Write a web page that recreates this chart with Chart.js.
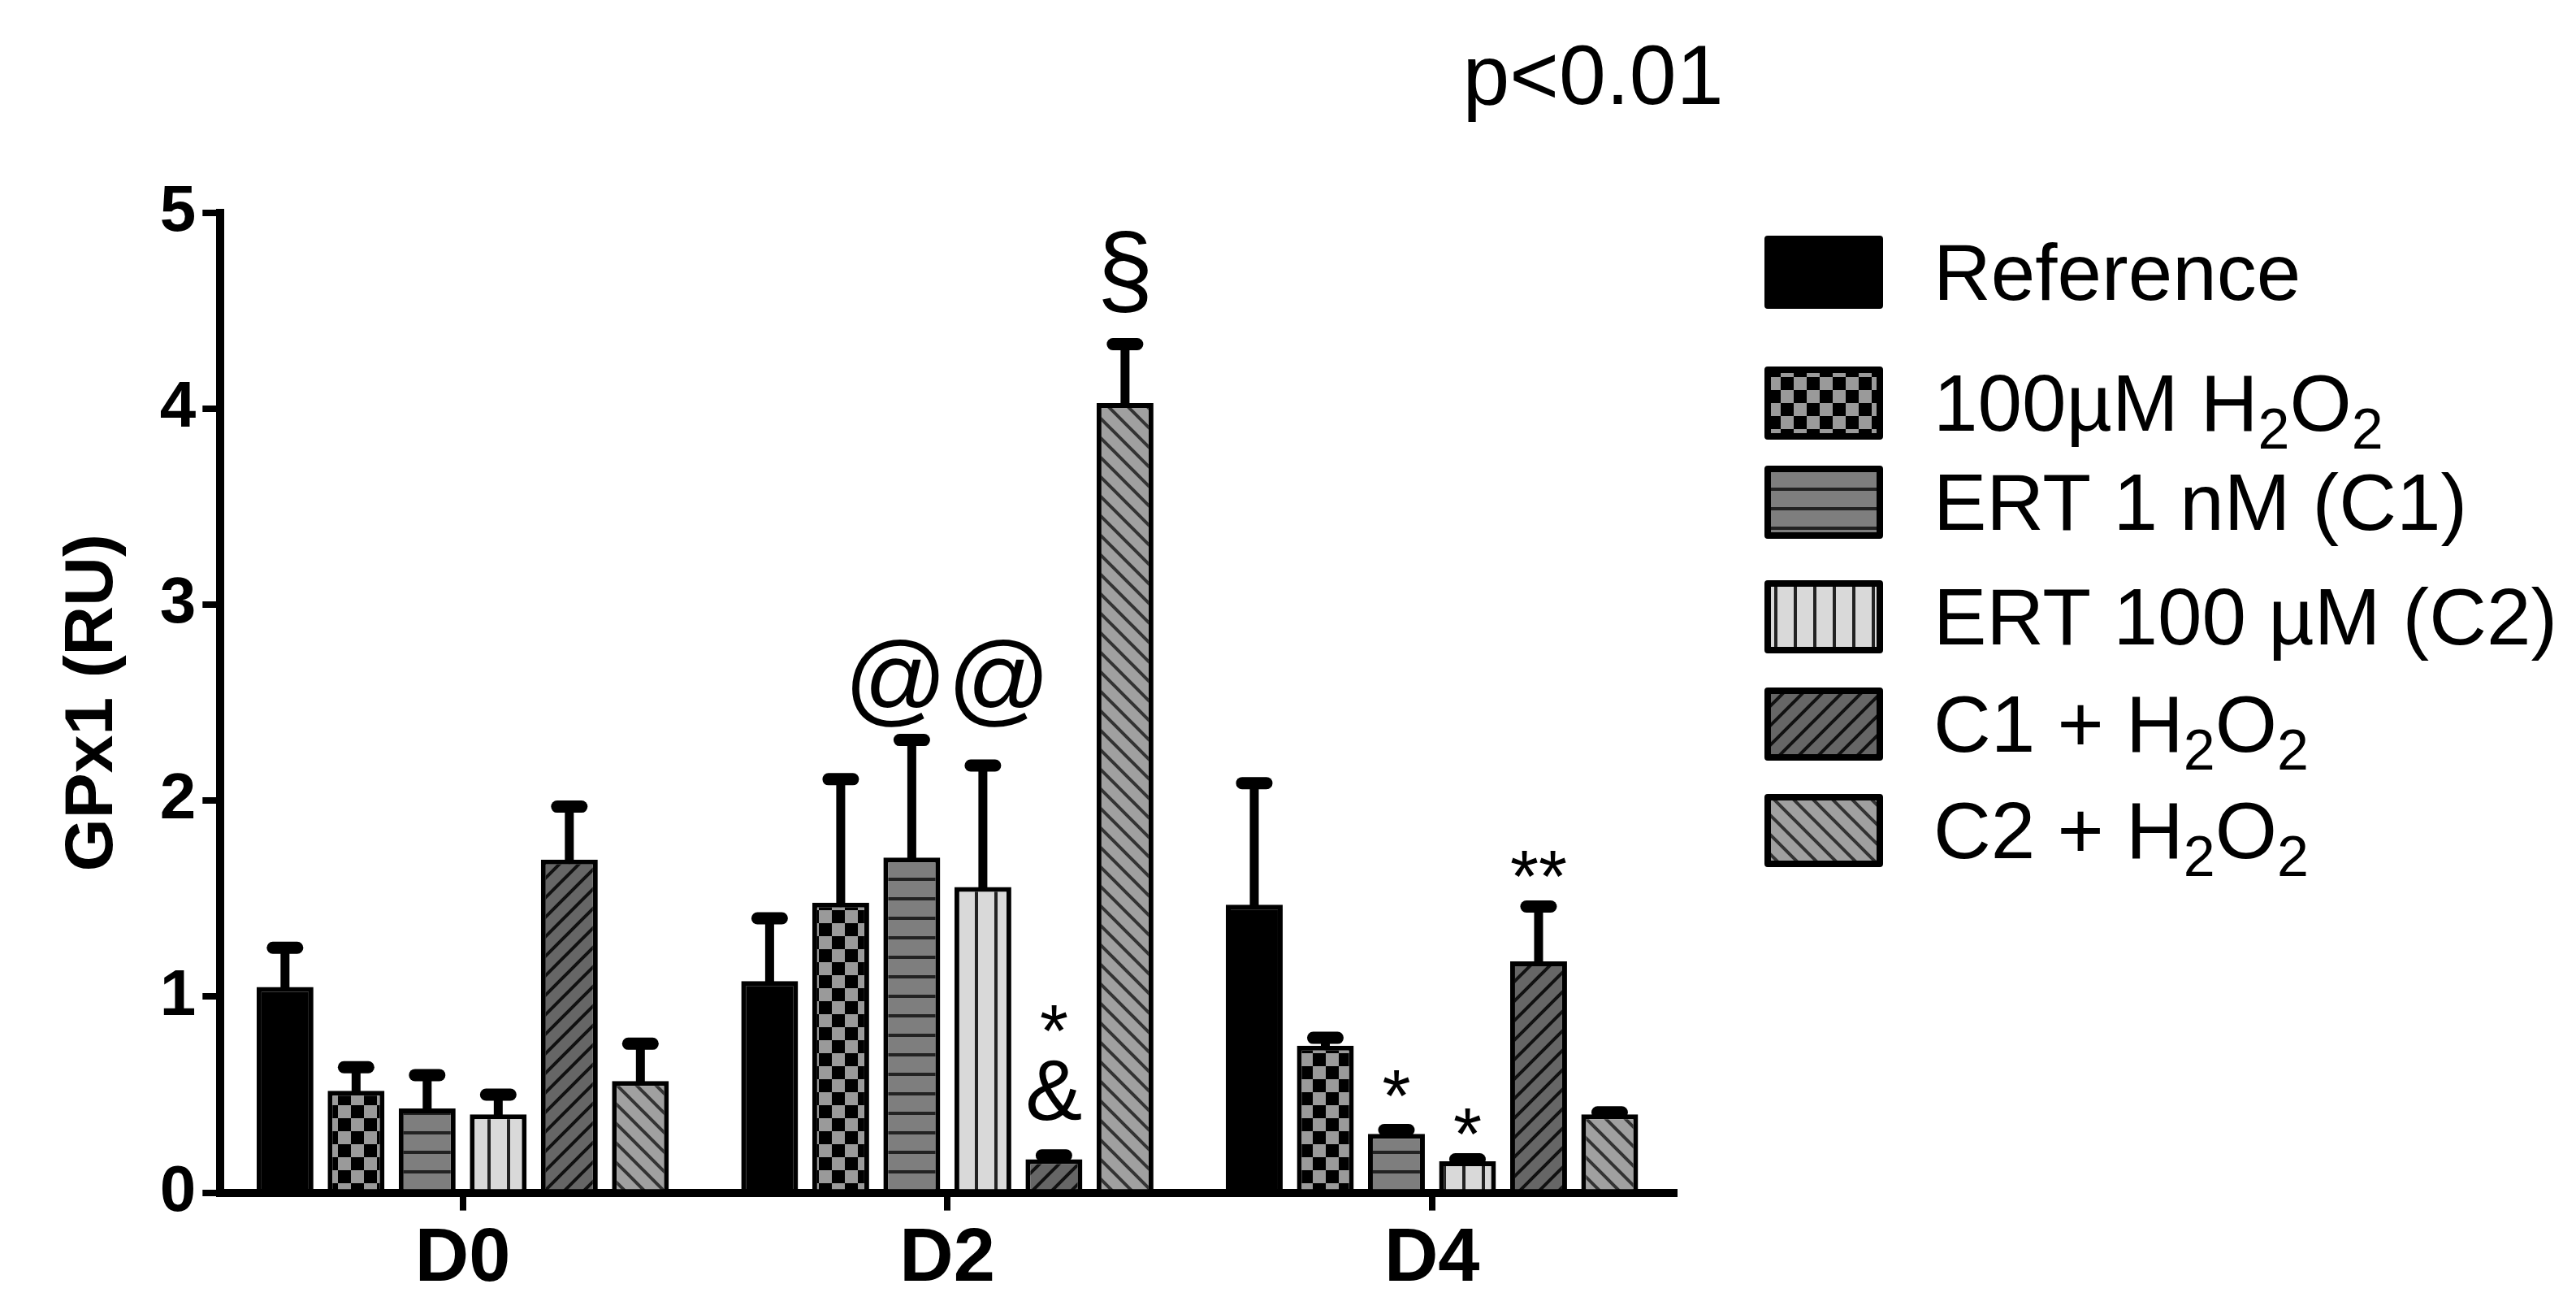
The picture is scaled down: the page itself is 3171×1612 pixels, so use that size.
<!DOCTYPE html>
<html><head><meta charset="utf-8">
<script src="https://cdn.jsdelivr.net/npm/chart.js@4"></script>
<style>html,body{margin:0;padding:0;background:#fff}</style>
</head><body>
<canvas id="c" width="3171" height="1612"></canvas>
<script>
const categories = ["D0","D2","D4"];
const seriesNames = ["Reference","100µM H2O2","ERT 1 nM (C1)","ERT 100 µM (C2)","C1 + H2O2","C2 + H2O2"];
const refMean = [1.05,1.08,1.47];   const refErr = [1.25,1.40,2.09];
const h2o2Mean = [0.52,1.48,0.75];  const h2o2Err = [0.64,2.11,0.79];
const c1Mean = [0.43,1.71,0.30];    const c1Err = [0.60,2.31,0.32];
const c2Mean = [0.40,1.56,0.16];    const c2Err = [0.50,2.18,0.17];
const c1hMean = [1.70,0.17,1.18];   const c1hErr = [1.97,0.19,1.46];
const c2hMean = [0.57,4.03,0.40];   const c2hErr = [0.76,4.33,0.41];
const yTicks = [0,1,2,3,4,5];
// annotations: [dataset, category, text, baseline offset above error top, font size]
const notes = [[2.5,1,"@@",34,125],[5,1,"§",50,125],[4,1,"&",44,105],[4,1,"*",122,90],
               [2,2,"*",10,90],[3,2,"*",0,90],[4,2,"**",6,90]];

function mk(w,h,draw){const c=document.createElement('canvas');c.width=w;c.height=h;const x=c.getContext('2d');draw(x,w,h);return x.createPattern(c,'repeat');}
const ctx0=document.getElementById('c').getContext('2d');
const pats=[
 '#000',
 mk(32,32,(x)=>{x.fillStyle='#9a9a9a';x.fillRect(0,0,32,32);x.fillStyle='#000';x.fillRect(0,0,16,16);x.fillRect(16,16,16,16);}),
 mk(20,24,(x)=>{x.fillStyle='#7e7e7e';x.fillRect(0,0,20,24);x.fillStyle='#222';x.fillRect(0,0,20,4);}),
 mk(24,20,(x)=>{x.fillStyle='#d9d9d9';x.fillRect(0,0,24,20);x.fillStyle='#222';x.fillRect(0,0,4,20);}),
 mk(24,24,(x)=>{x.fillStyle='#666';x.fillRect(0,0,24,24);x.strokeStyle='#111';x.lineWidth=4;x.beginPath();x.moveTo(-6,30);x.lineTo(30,-6);x.moveTo(-18,18);x.lineTo(18,-18);x.moveTo(6,42);x.lineTo(42,6);x.stroke();}),
 mk(24,24,(x)=>{x.fillStyle='#a0a0a0';x.fillRect(0,0,24,24);x.strokeStyle='#333';x.lineWidth=4;x.beginPath();x.moveTo(-6,-6);x.lineTo(30,30);x.moveTo(-18,6);x.lineTo(18,42);x.moveTo(6,-18);x.lineTo(42,18);x.stroke();})
];
const means=[refMean,h2o2Mean,c1Mean,c2Mean,c1hMean,c2hMean];
const errs=[refErr,h2o2Err,c1Err,c2Err,c1hErr,c2hErr];
const F='"Liberation Sans", Arial, sans-serif';

const errPlugin={id:'err',afterDatasetsDraw(ch){
 const c=ch.ctx,ys=ch.scales.y;c.save();c.strokeStyle='#000';c.lineCap='round';
 ch.data.datasets.forEach((d,i)=>{ch.getDatasetMeta(i).data.forEach((b,j)=>{
   const top=ys.getPixelForValue(errs[i][j]);c.lineWidth=11;c.beginPath();c.moveTo(b.x,b.y);c.lineTo(b.x,top);c.stroke();
   c.lineWidth=15;c.beginPath();c.moveTo(b.x-15,top);c.lineTo(b.x+15,top);c.stroke();});});
 c.fillStyle='#000';c.textAlign='center';c.textBaseline='alphabetic';
 notes.forEach(([di,cj,t,off,sz])=>{
   const lo=Math.floor(di),hi=Math.ceil(di);
   const x=(ch.getDatasetMeta(lo).data[cj].x+ch.getDatasetMeta(hi).data[cj].x)/2;
   const e=Math.max(errs[lo][cj],errs[hi][cj]);
   c.font=sz+'px '+F;c.fillText(t,x,ys.getPixelForValue(e)-off);});
 c.font='104px '+F;c.fillText('p<0.01',1961,128);
 const rows=[[["Reference"]],[["100µM H"],["2",1],["O"],["2",1]],[["ERT 1 nM (C1)"]],[["ERT 100 µM (C2)"]],[["C1 + H"],["2",1],["O"],["2",1]],[["C2 + H"],["2",1],["O"],["2",1]]];
 const yc=[334,495,617,758,890,1021];
 rows.forEach((r,i)=>{
   c.fillStyle=pats[i];c.fillRect(2176,yc[i]-40,138,82);
   c.lineWidth=8;c.strokeStyle='#000';c.lineJoin='round';c.strokeRect(2176,yc[i]-40,138,82);
   let x=2380;c.textAlign='left';c.fillStyle='#000';
   r.forEach(([s,sub])=>{c.font=(sub?'70px ':'98px ')+F;c.fillText(s,x,yc[i]+35+(sub?22:0));x+=c.measureText(s).width;});
 });
 c.restore();}};

new Chart(ctx0,{type:'bar',
 data:{labels:categories,datasets:seriesNames.map((n,i)=>({label:n,data:means[i],backgroundColor:pats[i],borderColor:'#000',borderWidth:6,borderSkipped:'bottom'}))},
 options:{responsive:false,animation:false,devicePixelRatio:1,
  layout:{padding:{top:262,right:1110,left:40,bottom:0}},
  categoryPercentage:0.88,barPercentage:0.8,
  plugins:{legend:{display:false},tooltip:{enabled:false}},
  scales:{
   x:{grid:{offset:false,drawOnChartArea:false,drawTicks:true,tickLength:22,color:'#000',lineWidth:8},
      border:{color:'#000',width:10},ticks:{color:'#000',font:{family:F,size:92,weight:'bold'},padding:6}},
   y:{min:0,max:5,afterBuildTicks:(a)=>{a.ticks=yTicks.map(v=>({value:v}));},
      grid:{drawOnChartArea:false,drawTicks:true,tickLength:22,color:'#000',lineWidth:8},
      border:{color:'#000',width:10},ticks:{color:'#000',font:{family:F,size:80,weight:'bold'},padding:8},
      title:{display:true,text:'GPx1 (RU)',color:'#000',font:{family:F,size:84,weight:'bold'},padding:24}}
  }},
 plugins:[errPlugin]});
</script>
</body></html>
